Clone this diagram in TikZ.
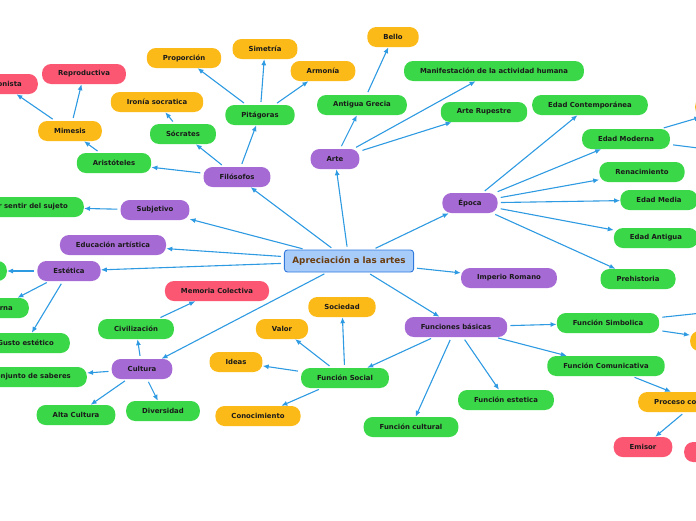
\documentclass[tikz,border=0pt]{standalone}
\usepackage{fontspec}
\setmainfont{DejaVu Sans}
\usetikzlibrary{arrows.meta}
\definecolor{cpur}{HTML}{A66AD4}
\definecolor{cgrn}{HTML}{3AD848}
\definecolor{corg}{HTML}{FCBA19}
\definecolor{cpnk}{HTML}{FB5773}
\definecolor{carr}{HTML}{2E9AE2}
\definecolor{cfill}{HTML}{A8CCFA}
\definecolor{cbord}{HTML}{3078DC}
\definecolor{cbrown}{HTML}{6B3D0F}
\definecolor{ctxt}{HTML}{1A1A1A}
\tikzset{
  base/.style={rectangle, rounded corners=9pt, minimum height=20pt, inner xsep=16pt, inner ysep=0pt,
    font=\bfseries\fontsize{6.9}{8}\selectfont, text=ctxt},
  pur/.style={base, fill=cpur},
  grn/.style={base, fill=cgrn},
  org/.style={base, fill=corg},
  pnk/.style={base, fill=cpnk},
  root/.style={rectangle, rounded corners=3pt, minimum height=22pt, inner xsep=8pt, fill=cfill, draw=cbord,
    line width=0.9pt, font=\bfseries\fontsize{8.8}{10}\selectfont, text=cbrown},
  arr/.style={draw=carr, line width=1.1pt, -{Latex[length=6pt,width=5pt]}, shorten <=3pt}
}
\begin{document}
\begin{tikzpicture}[x=1pt,y=-1pt]
\useasboundingbox (0,0) rectangle (696,520);
% root
\node[root] (c) at (349,261) {Apreciación a las artes};
% purple
\node[pur] (arte) at (335,159) {Arte};
\node[pur] (filo) at (237,177) {Filósofos};
\node[pur] (subj) at (155,210) {Subjetivo};
\node[pur] (edu) at (113,245) {Educación artística};
\node[pur] (est) at (69,271) {Estética};
\node[pur] (cult) at (142,369) {Cultura};
\node[pur] (fb) at (456,327) {Funciones básicas};
\node[pur] (epoca) at (470,203) {Época};
\node[pur] (imp) at (509,278) {Imperio Romano};
% green
\node[grn] (ag) at (362,105) {Antigua Grecia};
\node[grn] (mani) at (494,71) {Manifestación de la actividad humana};
\node[grn] (rup) at (484,112) {Arte Rupestre};
\node[grn] (econ) at (590,105) {Edad Contemporánea};
\node[grn] (emod) at (626,139) {Edad Moderna};
\node[grn] (ren) at (642,172) {Renacimiento};
\node[grn] (emed) at (659,200) {Edad Media};
\node[grn] (eant) at (656,238) {Edad Antigua};
\node[grn] (pre) at (638,279) {Prehistoria};
\node[grn] (pit) at (260,115) {Pitágoras};
\node[grn] (soc) at (183,134) {Sócrates};
\node[grn] (ari) at (114,163) {Aristóteles};
\node[grn, anchor=east] (sentir) at (84,207) {Expresar sentir del sujeto};
\node[grn] (civ) at (136,329) {Civilización};
\node[grn, anchor=east] (gusto) at (70,343) {Gusto estético};
\node[grn, anchor=east] (interna) at (29,308) {Externa};
\node[grn, anchor=east, minimum width=70pt] (blank) at (7,271) {};
\node[grn, anchor=east] (conj) at (87,377) {Conjunto de saberes};
\node[grn] (alta) at (76,415) {Alta Cultura};
\node[grn] (div) at (163,411) {Diversidad};
\node[grn] (fs) at (345,378) {Función Social};
\node[grn] (fc) at (411,427) {Función cultural};
\node[grn] (fe) at (506,400) {Función estetica};
\node[grn] (fsim) at (608,323) {Función Simbolica};
\node[grn] (fcom) at (606,366) {Función Comunicativa};
% orange
\node[org] (bello) at (393,37) {Bello};
\node[org] (sim) at (265,49) {Simetría};
\node[org] (prop) at (184,58) {Proporción};
\node[org] (arm) at (323,71) {Armonía};
\node[org] (iron) at (157,102) {Ironía socratica};
\node[org] (mim) at (70,131) {Mimesis};
\node[org] (socd) at (342,307) {Sociedad};
\node[org] (valor) at (282,329) {Valor};
\node[org] (ideas) at (236,362) {Ideas};
\node[org] (conoc) at (258,416) {Conocimiento};
\node[org, anchor=west] (proc) at (638,402) {Proceso comunicativo};
\node[org, anchor=west, minimum width=80pt] (orgR) at (690,341) {};
\node[org, anchor=west, minimum width=80pt] (orgTR) at (695,107) {};
% pink
\node[pnk] (repro) at (84,74) {Reproductiva};
\node[pnk, anchor=east] (ilus) at (38,84) {Ilusionista};
\node[pnk] (mem) at (217,291) {Memoria Colectiva};
\node[pnk] (emisor) at (643,447) {Emisor};
\node[pnk, anchor=west, minimum width=80pt] (redR) at (684,452) {};
% off-canvas ends
\coordinate (offA) at (730,152);
\coordinate (offB) at (730,310);
% connectors
\draw[arr] (c) -- (arte);
\draw[arr] (c) -- (filo);
\draw[arr] (c) -- (subj);
\draw[arr] (c) -- (edu);
\draw[arr] (c) -- (est);
\draw[arr] (c) -- (cult);
\draw[arr] (c) -- (fb);
\draw[arr] (c) -- (imp);
\draw[arr] (c) -- (epoca);
\draw[arr] (arte) -- (ag);
\draw[arr] (arte) -- (mani);
\draw[arr] (arte) -- (rup);
\draw[arr] (ag) -- (bello);
\draw[arr] (filo) -- (pit);
\draw[arr] (filo) -- (soc);
\draw[arr] (filo) -- (ari);
\draw[arr] (pit) -- (prop);
\draw[arr] (pit) -- (sim);
\draw[arr] (pit) -- (arm);
\draw[arr] (soc) -- (iron);
\draw[arr] (ari) -- (mim);
\draw[arr] (mim) -- (repro);
\draw[arr] (mim) -- (ilus);
\draw[arr] (subj) -- (sentir);
\draw[arr] (est) -- (blank);
\draw[arr] (est) -- (interna);
\draw[arr] (est) -- (gusto);
\draw[arr] (cult) -- (civ);
\draw[arr] (civ) -- (mem);
\draw[arr] (cult) -- (conj);
\draw[arr] (cult) -- (alta);
\draw[arr] (cult) -- (div);
\draw[arr] (epoca) -- (econ);
\draw[arr] (epoca) -- (emod);
\draw[arr] (epoca) -- (ren);
\draw[arr] (epoca) -- (emed);
\draw[arr] (epoca) -- (eant);
\draw[arr] (epoca) -- (pre);
\draw[arr] (emod) -- (orgTR);
\draw[arr] (emod) -- (offA);
\draw[arr] (fb) -- (fsim);
\draw[arr] (fb) -- (fcom);
\draw[arr] (fb) -- (fe);
\draw[arr] (fb) -- (fc);
\draw[arr] (fb) -- (fs);
\draw[arr] (fs) -- (socd);
\draw[arr] (fs) -- (valor);
\draw[arr] (fs) -- (ideas);
\draw[arr] (fs) -- (conoc);
\draw[arr] (fsim) -- (offB);
\draw[arr] (fsim) -- (orgR);
\draw[arr] (fcom) -- (proc);
\draw[arr] (proc) -- (emisor);
\end{tikzpicture}
\end{document}
